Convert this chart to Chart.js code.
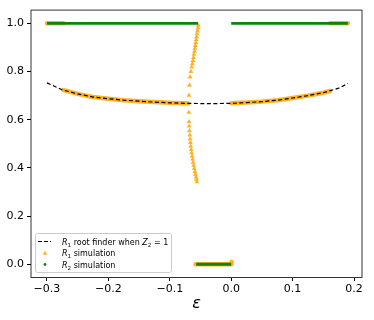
<!DOCTYPE html>
<html>
<head>
<meta charset="utf-8">
<script src="https://cdn.jsdelivr.net/npm/chart.js@4/dist/chart.umd.min.js"></script>
<style>
  html, body { margin: 0; padding: 0; background: #fff; }
  #wrap { width: 374px; height: 320px; }
</style>
</head>
<body>
<div id="wrap"><canvas id="chart" width="374" height="320"></canvas></div>
<script>
// R1 from the root finder (Z2 = 1), dashed black
let rootX = [-0.30, -0.275, -0.25, -0.225, -0.20, -0.175, -0.15, -0.125, -0.10, -0.075, -0.05,
  -0.025, 0.0, 0.025, 0.05, 0.075, 0.10, 0.125, 0.15, 0.175, 0.19];
let rootY = [0.753, 0.724, 0.707, 0.694, 0.687, 0.681, 0.677, 0.673, 0.670, 0.668, 0.667,
  0.667, 0.668, 0.671, 0.675, 0.681, 0.690, 0.700, 0.712, 0.731, 0.750];

// R1 simulation, the branch near eps = -0.06 (single triangles)
let r1BranchX = [-0.0536, -0.0542, -0.0549, -0.0556, -0.0563, -0.0570, -0.0577, -0.0584, -0.0591,
  -0.0598, -0.0606, -0.0614, -0.0623, -0.0633, -0.0643, -0.0655, -0.0671, -0.0680, -0.0687,
  -0.0690, -0.0687, -0.0685, -0.0680, -0.0674, -0.0669, -0.0664, -0.0658, -0.0652, -0.0645,
  -0.0638, -0.0630, -0.0621, -0.0612, -0.0602, -0.0592, -0.0582, -0.0573, -0.0566, -0.0560];
let r1BranchY = [0.992, 0.980, 0.968, 0.956, 0.944, 0.932, 0.920, 0.908, 0.896,
  0.884, 0.871, 0.858, 0.845, 0.832, 0.818, 0.800, 0.777, 0.743, 0.701,
  0.630, 0.591, 0.573, 0.554, 0.536, 0.520, 0.505, 0.490, 0.476, 0.462,
  0.449, 0.436, 0.423, 0.410, 0.397, 0.385, 0.373, 0.362, 0.352, 0.342];

// R1 simulation, the dense runs (null = gap)
let r1RunX = [-0.30, -0.273, null,
  -0.273, -0.25, -0.225, -0.20, -0.175, -0.15, -0.125, -0.10, -0.07, null,
  0.0, 0.025, 0.05, 0.075, 0.10, 0.125, 0.15, 0.161, null,
  0.161, 0.19, null,
  -0.058, 0.0, 0.0005];
let r1RunY = [1.0, 1.0, null,
  0.723, 0.707, 0.694, 0.687, 0.681, 0.677, 0.673, 0.670, 0.667, null,
  0.668, 0.671, 0.675, 0.681, 0.690, 0.700, 0.712, 0.719, null,
  1.0, 1.0, null,
  0.0, 0.0, 0.01];

// R2 simulation, dense runs
let r2RunX = [-0.30, -0.054, null, 0.0, 0.19, null, -0.057, 0.0];
let r2RunY = [1.0, 1.0, null, 1.0, 1.0, null, 0.0, 0.0];

let xTicks = [-0.3, -0.2, -0.1, 0.0, 0.1, 0.2];
let xTickLabels = ["\u22120.3", "\u22120.2", "\u22120.1", "0.0", "0.1", "0.2"];
let yTicks = [0.0, 0.2, 0.4, 0.6, 0.8, 1.0];
let yTickLabels = ["0.0", "0.2", "0.4", "0.6", "0.8", "1.0"];

let orange = "rgba(255,165,0,0.85)";
let green = "#0b850b";

function pairs(xs, ys) {
  return xs.map((x, i) => ({ x: x, y: ys[i] }));
}

function mathText(ctx, parts, x, y) {
  parts.forEach((p) => {
    let size = p.sub ? 5.6 : 8;
    ctx.font = (p.it ? "italic " : "") + size + "px 'DejaVu Sans'";
    ctx.fillText(p.t, x, p.sub ? y + 2 : y);
    x += ctx.measureText(p.t).width;
  });
}

const decor = {
  id: "decor",
  afterDatasetsDraw(chart) {
    let ctx = chart.ctx;
    let a = chart.chartArea;
    ctx.save();

    // axes frame
    ctx.strokeStyle = "#333";
    ctx.lineWidth = 1;
    ctx.strokeRect(a.left, a.top + 0.5, a.right - a.left, a.bottom - a.top);

    // legend box
    ctx.fillStyle = "rgba(255,255,255,0.8)";
    ctx.strokeStyle = "#cccccc";
    ctx.beginPath();
    ctx.roundRect(35.5, 233.5, 136, 39, 2);
    ctx.fill();
    ctx.stroke();

    ctx.strokeStyle = "#000";
    ctx.lineWidth = 1.2;
    ctx.setLineDash([4, 2]);
    ctx.beginPath();
    ctx.moveTo(38, 241.5);
    ctx.lineTo(51, 241.5);
    ctx.stroke();
    ctx.setLineDash([]);

    ctx.fillStyle = orange;
    ctx.beginPath();
    ctx.moveTo(45, 250.8);
    ctx.lineTo(47.3, 254.8);
    ctx.lineTo(42.7, 254.8);
    ctx.closePath();
    ctx.fill();

    ctx.fillStyle = green;
    ctx.beginPath();
    ctx.arc(45, 264.5, 1.4, 0, Math.PI * 2);
    ctx.fill();

    ctx.fillStyle = "#000";
    ctx.textBaseline = "alphabetic";
    ctx.textAlign = "left";
    mathText(ctx, [{ t: "R", it: true }, { t: "1", sub: true }, { t: " root finder when " },
      { t: "Z", it: true }, { t: "2", sub: true }, { t: " = 1" }], 62, 244.5);
    mathText(ctx, [{ t: "R", it: true }, { t: "1", sub: true }, { t: " simulation" }], 62, 256);
    mathText(ctx, [{ t: "R", it: true }, { t: "2", sub: true }, { t: " simulation" }], 62, 267.5);

    // x axis label
    ctx.font = "italic 16px 'DejaVu Sans'";
    ctx.textAlign = "center";
    ctx.fillText("\u03b5", (a.left + a.right) / 2, 308);
    ctx.restore();
  }
};

new Chart("chart", {
  type: "scatter",
  data: {
    datasets: [
      {
        label: "R1 root finder when Z2 = 1",
        data: pairs(rootX, rootY),
        showLine: true,
        borderColor: "#000",
        borderWidth: 1.2,
        borderDash: [4, 2.5],
        pointRadius: 0,
        order: 0,
      },
      {
        label: "R1 simulation",
        data: pairs(r1BranchX, r1BranchY),
        pointStyle: "triangle",
        pointRadius: 2.8,
        borderWidth: 0,
        backgroundColor: orange,
        order: 3,
      },
      {
        label: "R1 runs",
        data: pairs(r1RunX, r1RunY),
        showLine: true,
        spanGaps: false,
        borderColor: orange,
        borderWidth: 4.5,
        borderCapStyle: "round",
        borderJoinStyle: "round",
        pointRadius: 0,
        order: 4,
      },
      {
        label: "R2 simulation",
        data: pairs(r2RunX, r2RunY),
        showLine: true,
        spanGaps: false,
        borderColor: green,
        borderWidth: 2.8,
        pointRadius: 0,
        order: 2,
      },
    ],
  },
  options: {
    responsive: false,
    animation: false,
    layout: { padding: { top: 9, right: 12, left: 0, bottom: 0 } },
    plugins: { legend: { display: false }, tooltip: { enabled: false } },
    scales: {
      x: {
        type: "linear",
        min: -0.326,
        max: 0.213,
        afterBuildTicks: (s) => { s.ticks = xTicks.map((v) => ({ value: v })); },
        afterFit: (s) => { s.height = 43; },
        ticks: {
          color: "#000",
          padding: 2,
          maxRotation: 0,
          font: { family: "'DejaVu Sans'", size: 11 },
          callback: (v, i) => xTickLabels[i],
        },
        grid: { drawOnChartArea: false, tickLength: 4, tickColor: "#000" },
        border: { display: false },
      },
      y: {
        type: "linear",
        min: -0.053,
        max: 1.057,
        afterBuildTicks: (s) => { s.ticks = yTicks.map((v) => ({ value: v })); },
        afterFit: (s) => { s.width = 31; },
        ticks: {
          color: "#000",
          padding: 3,
          font: { family: "'DejaVu Sans'", size: 11 },
          callback: (v, i) => yTickLabels[i],
        },
        grid: { drawOnChartArea: false, tickLength: 4, tickColor: "#000" },
        border: { display: false },
      },
    },
  },
  plugins: [decor],
});
</script>
</body>
</html>
